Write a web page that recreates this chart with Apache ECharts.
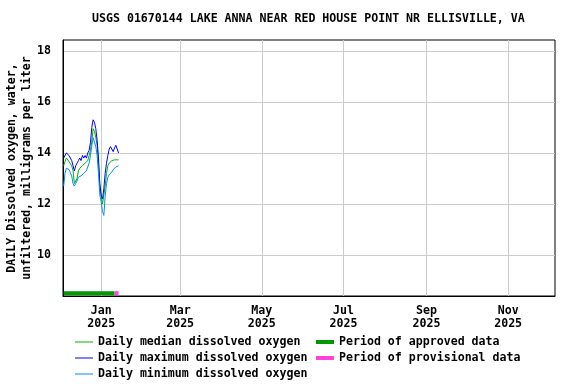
<!DOCTYPE html>
<html>
<head>
<meta charset="utf-8">
<script src="https://cdn.jsdelivr.net/npm/echarts@6/dist/echarts.min.js"></script>
<style>
html, body { margin: 0; background: #fff; }
#chart { width: 576px; height: 384px; }
</style>
</head>
<body>
<div id="chart"></div>
<script>
// daily values, one per day starting at firstDay
var firstDay = '2024-12-04';
var medianDO = [13.5, 13.66, 13.8, 13.75, 13.66, 13.6, 13.5, 13.3, 12.8, 12.9,
    13.0, 13.3, 13.4, 13.4, 13.5, 13.45, 13.6, 13.6, 13.7, 13.9,
    14.1, 14.45, 14.95, 14.85, 14.6, 14.3, 13.6, 12.7, 12.3, 12.0,
    11.96, 12.7, 13.2, 13.5, 13.6, 13.66, 13.7, 13.73, 13.73, 13.72,
    13.73, 13.73];
var maxDO = [13.8, 13.8, 14.0, 14.0, 13.9, 13.9, 13.7, 13.5, 13.3, 13.5,
    13.6, 13.7, 13.8, 13.7, 13.9, 13.8, 13.9, 13.8, 14.0, 14.1,
    14.4, 15.0, 15.3, 15.2, 14.95, 14.5, 13.8, 12.8, 12.35, 12.2,
    12.6, 13.2, 13.6, 13.9, 14.15, 14.25, 14.3, 14.05, 14.2, 14.3,
    14.25, 14.0];
var minDO = [12.7, 13.2, 13.4, 13.35, 13.35, 13.3, 13.1, 12.8, 12.7, 12.8,
    12.9, 13.05, 13.1, 13.1, 13.15, 13.2, 13.2, 13.3, 13.45, 13.6,
    13.9, 14.3, 14.6, 14.55, 14.25, 13.9, 13.2, 12.35, 12.1, 11.7,
    11.55, 12.3, 12.8, 13.05, 13.15, 13.2, 13.25, 13.35, 13.4, 13.45,
    13.45, 13.5];
var approvedPeriod = ['2024-12-04', '2025-01-11'];
var provisionalPeriod = ['2025-01-11', '2025-01-14'];
var yTicks = [10, 12, 14, 16, 18];
var monthTicks = ['2025-01-01', '2025-03-01', '2025-05-01', '2025-07-01', '2025-09-01', '2025-11-01'];
var monthNames = ['Jan','Feb','Mar','Apr','May','Jun','Jul','Aug','Sep','Oct','Nov','Dec'];

var FONT = 'DejaVu Sans Mono';
var DAY = 86400000;

function toTime(s) {
    var p = s.split('-');
    return new Date(+p[0], +p[1] - 1, +p[2]).getTime();
}

function pairs(values) {
    var t0 = toTime(firstDay);
    var out = [];
    for (var i = 0; i < values.length; i++) {
        out.push([t0 + i * DAY, values[i]]);
    }
    return out;
}

var barLevel = 8.5;
var monthValues = monthTicks.map(toTime);
var labelText = {color: '#000', fontFamily: FONT, fontSize: 11.6, fontWeight: 'bold'};

// one legend box per entry so rows and columns sit where the original has them
function legendAt(name, left, top, h) {
    return {
        data: [name], left: left, top: top,
        icon: 'rect', itemWidth: 18, itemHeight: h, itemTextGap: 5,
        padding: 0, textStyle: labelText
    };
}

var chart = echarts.init(document.getElementById('chart'), null, {renderer: 'canvas'});
chart.setOption({
    animation: false,
    textStyle: {fontFamily: FONT, fontWeight: 'bold'},
    title: {
        text: 'USGS 01670144 LAKE ANNA NEAR RED HOUSE POINT NR ELLISVILLE, VA',
        left: 92, top: 13, padding: 0,
        textStyle: labelText
    },
    grid: {left: 63, right: 21, top: 40, bottom: 88, outerBoundsMode: 'none',
        show: true, borderColor: '#000', borderWidth: 1},
    xAxis: {
        type: 'value',
        min: toTime('2024-12-03') + DAY / 2,
        max: toTime('2025-12-06'),
        axisLine: {lineStyle: {color: '#000'}},
        axisTick: {show: false, customValues: monthValues},
        axisLabel: Object.assign({
            customValues: monthValues,
            margin: 8, lineHeight: 13,
            formatter: function (v) {
                var d = new Date(v);
                return monthNames[d.getMonth()] + '\n' + d.getFullYear();
            }
        }, labelText),
        splitLine: {show: true, customValues: monthValues, lineStyle: {color: '#cccccc'}}
    },
    yAxis: {
        type: 'value',
        min: 8.39, max: 18.43,
        name: 'DAILY Dissolved oxygen, water,\nunfiltered, milligrams per liter',
        nameLocation: 'middle', nameGap: 29, nameMoveOverlap: false,
        nameTextStyle: Object.assign({lineHeight: 15}, labelText),
        axisLine: {show: true, lineStyle: {color: '#000'}},
        axisTick: {show: false, customValues: yTicks},
        axisLabel: Object.assign({customValues: yTicks, margin: 12}, labelText),
        splitLine: {show: true, customValues: yTicks, lineStyle: {color: '#cccccc'}}
    },
    legend: [
        legendAt('Daily median dissolved oxygen', 75, 336, 1),
        legendAt('Daily maximum dissolved oxygen', 75, 352, 1),
        legendAt('Daily minimum dissolved oxygen', 75, 368, 1),
        legendAt('Period of approved data', 316, 336, 4),
        legendAt('Period of provisional data', 316, 352, 4)
    ],
    series: [{
        name: 'Daily median dissolved oxygen', type: 'line', showSymbol: false,
        data: pairs(medianDO), color: '#00b000', lineStyle: {width: 1}
    }, {
        name: 'Daily maximum dissolved oxygen', type: 'line', showSymbol: false,
        data: pairs(maxDO), color: '#0000ff', lineStyle: {width: 1}
    }, {
        name: 'Daily minimum dissolved oxygen', type: 'line', showSymbol: false,
        data: pairs(minDO), color: '#008ee8', lineStyle: {width: 1}
    }, {
        name: 'Period of approved data', type: 'line', showSymbol: false,
        data: approvedPeriod.map(function (d) { return [toTime(d), barLevel]; }),
        color: '#009900', lineStyle: {width: 4}
    }, {
        name: 'Period of provisional data', type: 'line', showSymbol: false,
        data: provisionalPeriod.map(function (d) { return [toTime(d), barLevel]; }),
        color: '#ff44dd', lineStyle: {width: 4}
    }]
});
</script>
</body>
</html>
